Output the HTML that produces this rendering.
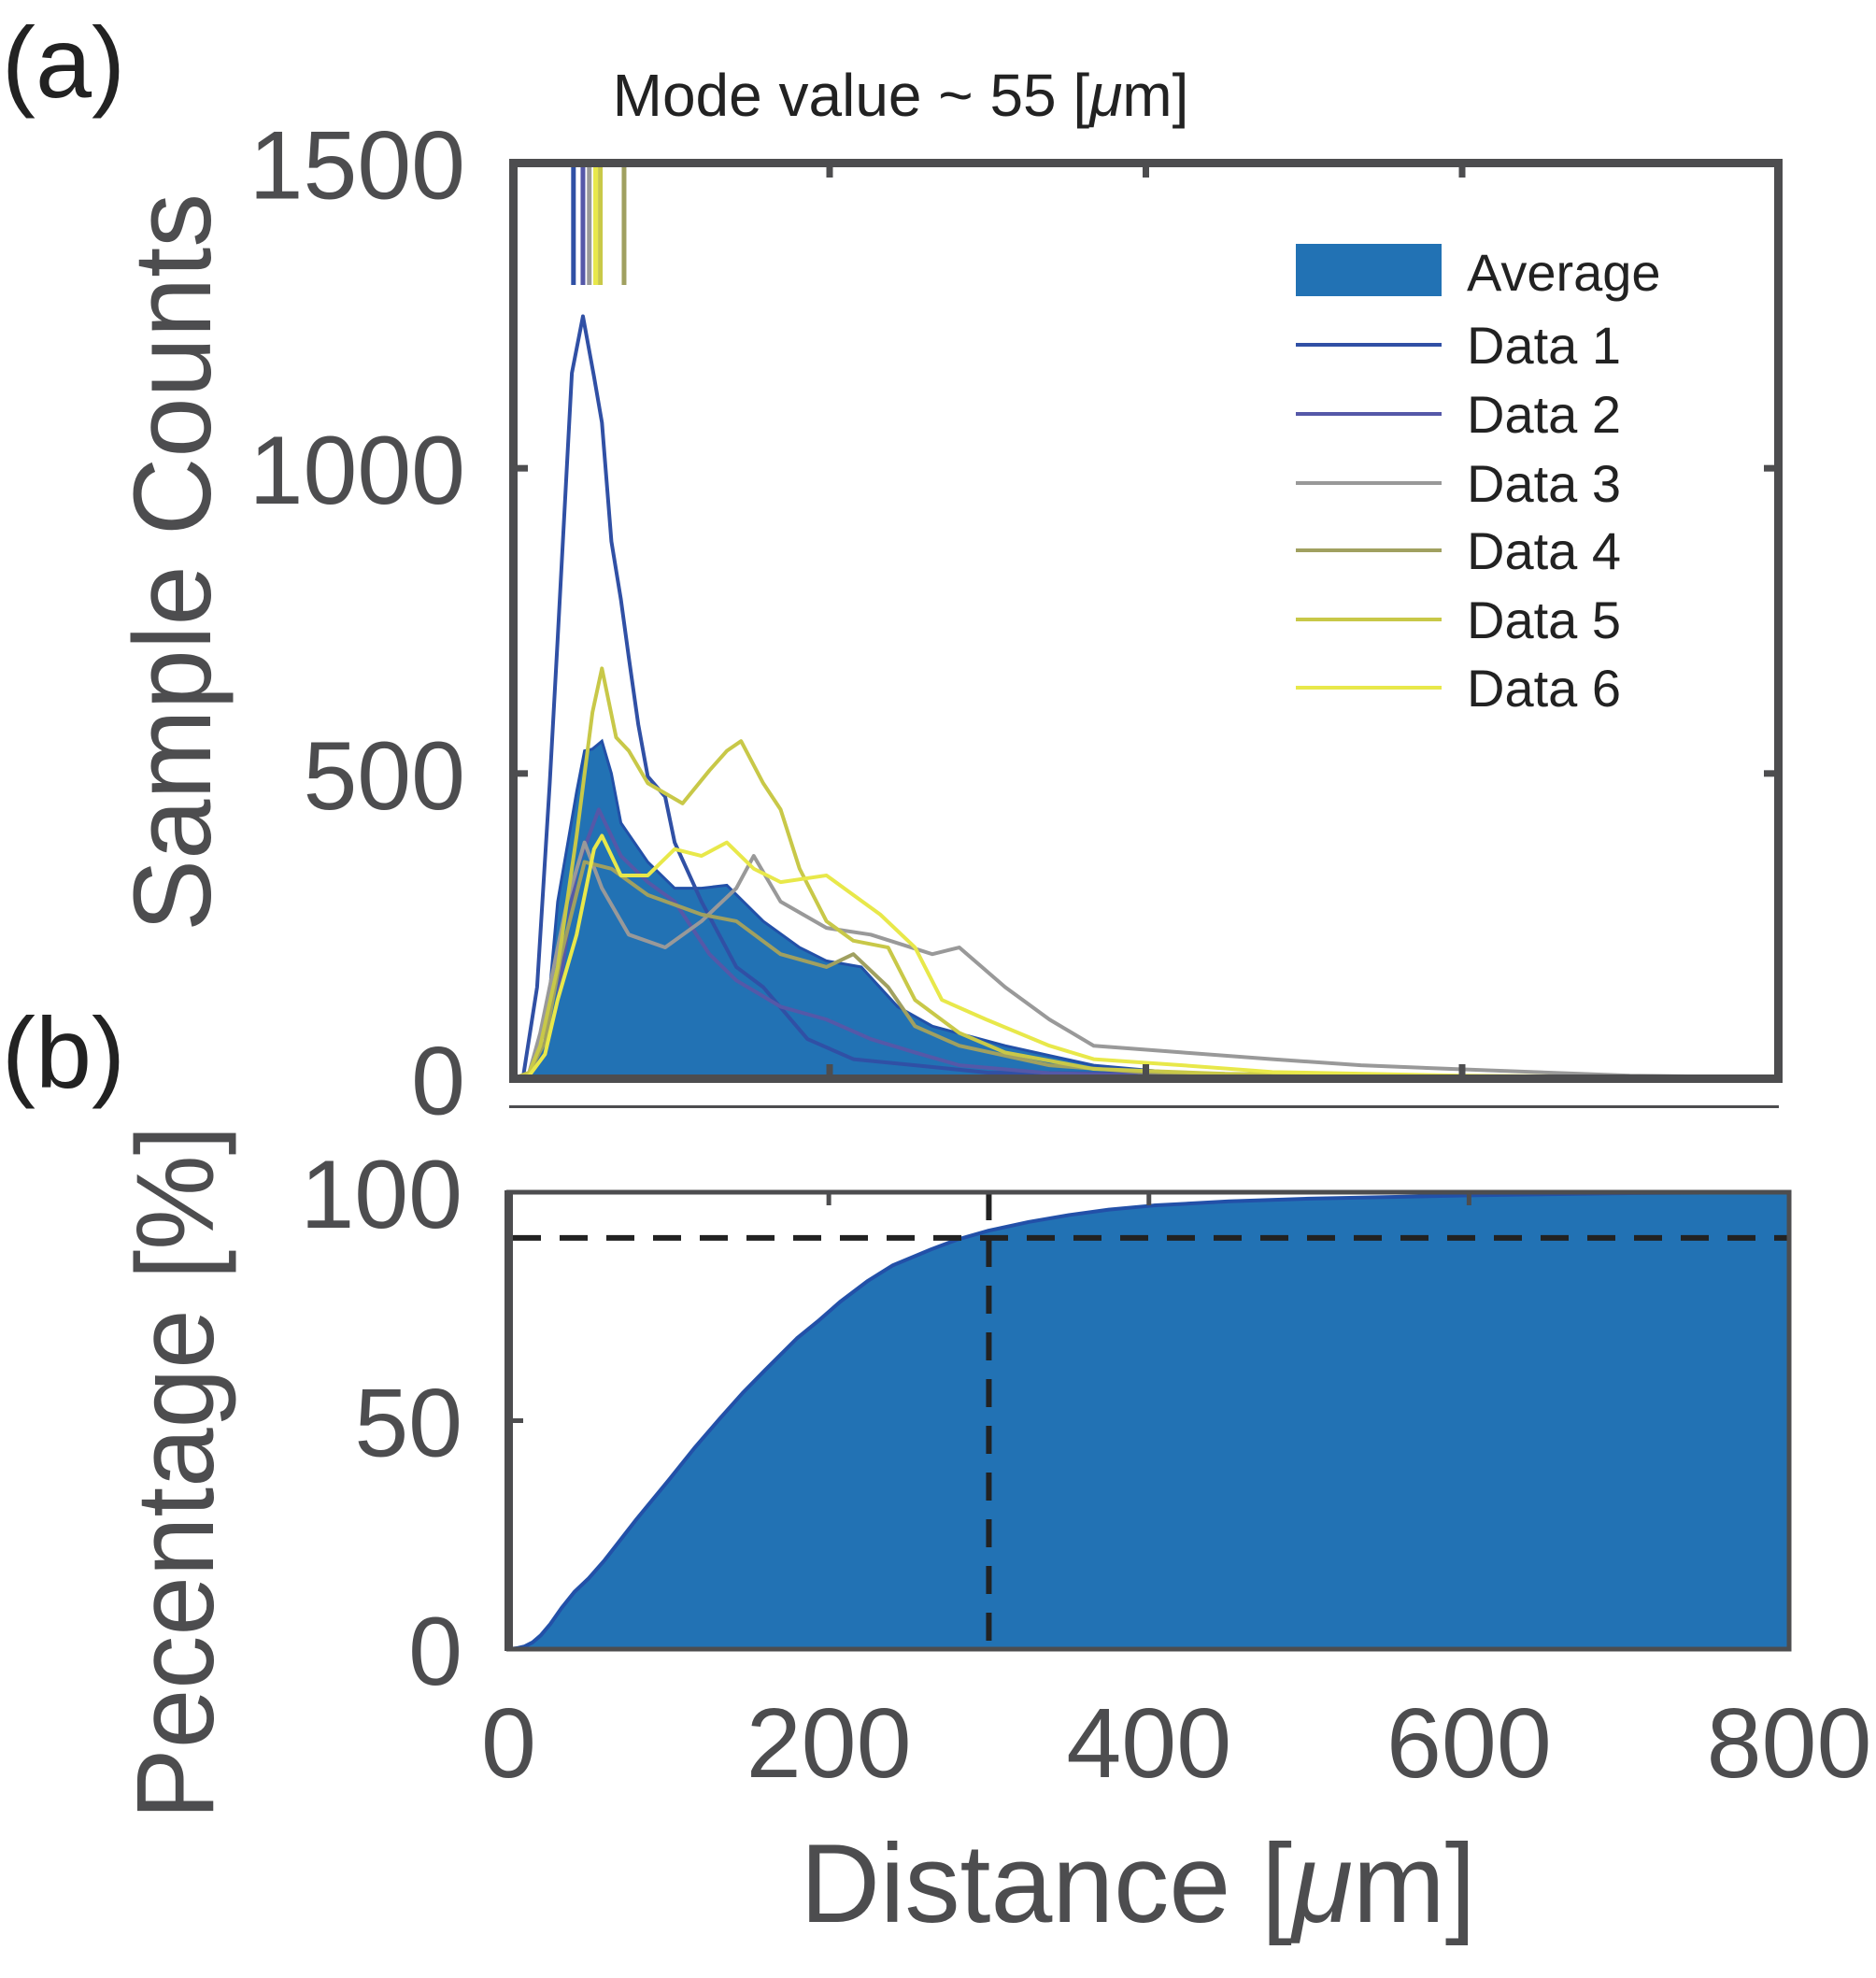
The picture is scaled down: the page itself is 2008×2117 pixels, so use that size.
<!DOCTYPE html>
<html><head><meta charset="utf-8"><style>
html,body{margin:0;padding:0;background:#fff;}
svg{display:block;font-family:"Liberation Sans",sans-serif;}
</style></head><body>
<svg id="chart" width="2008" height="2117" viewBox="0 0 2008 2117">
<text x="2" y="104" font-size="108" fill="#222">(a)</text>
<text x="2" y="1164" font-size="108" fill="#222">(b)</text>
<text x="964" y="124" font-size="64" fill="#222" text-anchor="middle">Mode value ~ 55 [<tspan font-style="italic">μ</tspan>m]</text>
<g id="gtop"></g>
<g id="gbot"></g>
<text transform="translate(225,602) rotate(-90)" font-size="118" fill="#4d4d4f" text-anchor="middle" textLength="790" lengthAdjust="spacingAndGlyphs">Sample Counts</text>
<text transform="translate(228,1576) rotate(-90)" font-size="118" fill="#4d4d4f" text-anchor="middle" textLength="743" lengthAdjust="spacingAndGlyphs">Pecentage [%]</text>
<text x="1218" y="2057" font-size="120" fill="#4d4d4f" text-anchor="middle" textLength="723" lengthAdjust="spacingAndGlyphs">Distance [<tspan font-style="italic">μ</tspan>m]</text>
</svg>
<script>
const avgX=[0,10,20,28,40,45,50,56,62,68,85,102,119,135,158,181,198,220,243,265,311,367,423,500,600,700,800];
const avgY=[0,5,60,290,470,537,540,553,500,419,355,312,312,317,258,215,193,183,118,86,54,22,9,4,3,2,1];
const d1X=[0,6,15,23,28,37,44,51,56,62,68,73,79,85,96,102,119,141,158,186,215,254,300,400,500,600,800];
const d1Y=[0,0,150,484,720,1156,1249,1150,1075,880,785,690,580,495,462,387,290,183,150,65,32,22,10,8,5,3,1];
const d2X=[0,10,20,28,40,54,68,85,102,124,141,169,198,226,254,282,339,400,500,600,800];
const d2Y=[0,5,40,129,344,441,365,322,290,204,161,118,97,65,43,22,9,6,4,3,1];
const d3X=[0,10,17,34,45,56,73,96,119,141,152,169,198,226,265,282,311,339,367,423,480,536,593,706,800];
const d3Y=[0,10,75,290,387,312,236,215,258,312,365,290,247,236,204,215,150,97,54,43,32,22,16,5,2];
const d4X=[0,10,20,30,45,62,85,119,141,169,198,215,237,254,282,339,395,500,600,800];
const d4Y=[0,10,60,200,355,344,301,269,258,204,183,204,150,86,54,22,11,5,3,1];
const d5X=[0,10,17,28,40,50,56,65,73,85,107,124,135,144,158,169,181,198,215,237,254,282,311,367,450,600,800];
const d5Y=[0,10,54,183,398,600,672,559,537,484,451,505,537,553,484,441,344,258,226,215,129,75,43,16,8,4,1];
const d6X=[0,10,20,28,40,51,56,68,85,102,119,135,152,169,198,215,232,254,271,299,339,367,423,480,600,800];
const d6Y=[0,5,40,129,236,376,398,333,333,376,365,387,344,322,333,301,269,215,129,97,54,32,22,11,5,1];
const modeVals=[38,44,48,52,55,70];
const cdfX=[0,5,10,15,20,26,33,41,50,60,70,80,100,116,132,146,160,180,194,207,224,240,264,280,300,325,350,375,403,450,500,600,700,800];
const cdfY=[0,0.2,0.6,1.5,3,5.5,9,12.5,15.5,19.5,24,28.5,37,44,50.5,56,61,68,72,76,80.5,84,87.5,89.6,91.6,93.5,95,96.2,97.1,98,98.6,99.3,99.8,100];
const xTicks=[0,200,400,600,800];
const yTicksTop=[0,500,1000,1500];
const yTicksBot=[0,50,100];
const colors=["#3050a5","#5558a8","#999999","#a0a060","#c8c848","#e8e84a"];
const names=["Data 1","Data 2","Data 3","Data 4","Data 5","Data 6"];
const series=[[d1X,d1Y],[d2X,d2Y],[d3X,d3Y],[d4X,d4Y],[d5X,d5Y],[d6X,d6Y]];
const NS="http://www.w3.org/2000/svg";
const xA=d=>549.5+d/800*1354, yA=v=>1154.5-v/1500*980;
const xB=d=>544.5+d/800*1370.5, yB=p=>1765-p/100*489;
function mk(tag,attrs,parent){const e=document.createElementNS(NS,tag);for(const k in attrs)e.setAttribute(k,attrs[k]);parent.appendChild(e);return e;}
const gTop=document.getElementById('gtop'), gBot=document.getElementById('gbot');
let p='M'+xA(avgX[0])+','+yA(0);
avgX.forEach((x,i)=>{p+=' L'+xA(x)+','+yA(avgY[i]);});
p+=' L'+xA(800)+','+yA(0)+' Z';
let af=mk('path',{d:p,fill:'#2272b4',stroke:'#2250a8','stroke-width':3},gTop);


series.forEach((s,k)=>{
  const d=s[0].map((x,i)=>(i?'L':'M')+xA(x)+','+yA(s[1][i])).join(' ');
  const l=mk('path',{d:d,fill:'none',stroke:colors[k],'stroke-width':4,'stroke-linejoin':'round'},gTop);
  
  
});
const modeColorIdx=[0,1,2,5,4,3];
modeVals.forEach((m,k)=>{
  const l=mk('line',{x1:xA(m),x2:xA(m),y1:179,y2:305,stroke:colors[modeColorIdx[k]],'stroke-width':5},gTop);
  
  
});
let fr=mk('rect',{x:549.5,y:174.5,width:1354,height:980,fill:'none',stroke:'#4d4d4f','stroke-width':9},gTop);


xTicks.forEach(t=>{
  mk('line',{x1:xA(t),x2:xA(t),y1:174.5,y2:190,stroke:'#4d4d4f','stroke-width':7},gTop);
  mk('line',{x1:xA(t),x2:xA(t),y1:1154.5,y2:1139,stroke:'#4d4d4f','stroke-width':7},gTop);
});
yTicksTop.forEach(t=>{
  mk('line',{x1:549.5,x2:565,y1:yA(t),y2:yA(t),stroke:'#4d4d4f','stroke-width':7},gTop);
  mk('line',{x1:1903.5,x2:1888,y1:yA(t),y2:yA(t),stroke:'#4d4d4f','stroke-width':7},gTop);
  const tx=mk('text',{x:498,y:yA(t)+38,'font-size':104,fill:'#4d4d4f','text-anchor':'end'},gTop);
  tx.textContent=t;
  
  
});
mk('line',{x1:545,x2:1904,y1:1184.5,y2:1184.5,stroke:'#4d4d4f','stroke-width':3},gTop);
let lp=mk('rect',{x:1387,y:261,width:156,height:56,fill:'#2272b4'},gTop);


let lt=mk('text',{x:1570,y:311,'font-size':56,fill:'#222'},gTop);lt.textContent='Average';


const rows=[369,443,517,589,663,736];
names.forEach((n,k)=>{
  mk('line',{x1:1387,x2:1543,y1:rows[k],y2:rows[k],stroke:colors[k],'stroke-width':4},gTop);
  const t=mk('text',{x:1570,y:rows[k]+20,'font-size':56,fill:'#222'},gTop);t.textContent=n;
  
  
});
let cp='M'+xB(0)+','+yB(0);
cdfX.forEach((x,i)=>{cp+=' L'+xB(x)+','+yB(cdfY[i]);});
cp+=' L'+xB(800)+','+yB(0)+' Z';
let cf=mk('path',{d:cp,fill:'#2272b4',stroke:'#2250a8','stroke-width':4,'stroke-linejoin':'round'},gBot);


let hl=mk('line',{x1:549,x2:1915,y1:yB(90),y2:yB(90),stroke:'#222','stroke-width':6,'stroke-dasharray':'30 20'},gBot);


let vl=mk('line',{x1:xB(300),x2:xB(300),y1:1276,y2:1765,stroke:'#222','stroke-width':6,'stroke-dasharray':'30 20'},gBot);


let fb=mk('rect',{x:544.5,y:1276,width:1370.5,height:489,fill:'none',stroke:'#4d4d4f','stroke-width':5},gBot);


mk('line',{x1:544.5,x2:544.5,y1:1274,y2:1767,stroke:'#4d4d4f','stroke-width':9},gBot);
xTicks.forEach(t=>{
  mk('line',{x1:xB(t),x2:xB(t),y1:1276,y2:1290,stroke:'#4d4d4f','stroke-width':5},gBot);
  const tx=mk('text',{x:xB(t),y:1902,'font-size':106,fill:'#4d4d4f','text-anchor':'middle'},gBot);
  tx.textContent=t;
  
  
});
yTicksBot.forEach(t=>{
  mk('line',{x1:544.5,x2:560,y1:yB(t),y2:yB(t),stroke:'#4d4d4f','stroke-width':5},gBot);
  const tx=mk('text',{x:495,y:yB(t)+38,'font-size':104,fill:'#4d4d4f','text-anchor':'end'},gBot);
  tx.textContent=t;
  
  
});
</script>
</body></html>
